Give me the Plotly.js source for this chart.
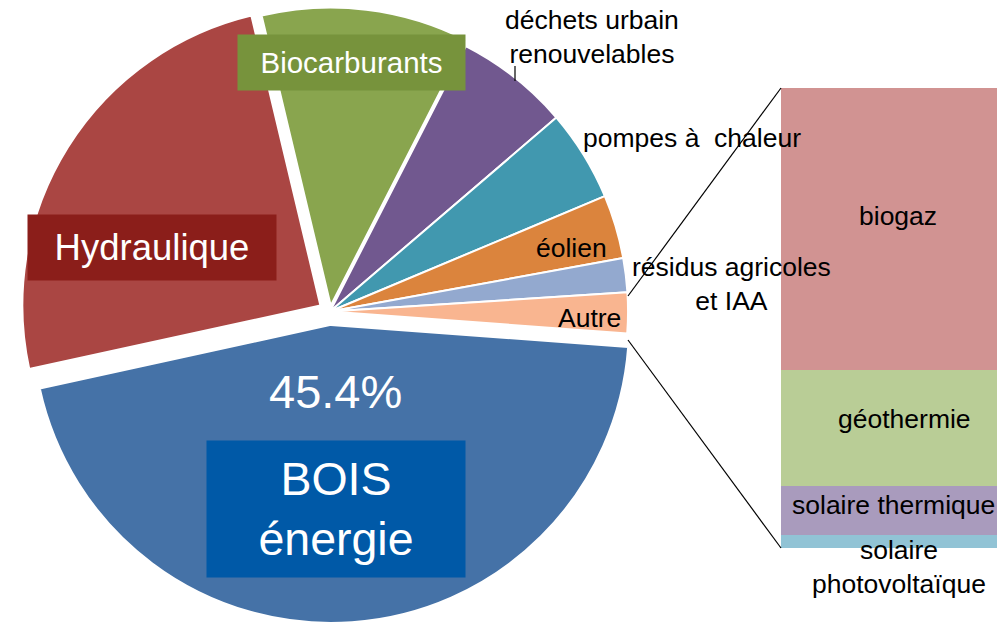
<!DOCTYPE html>
<html><head><meta charset="utf-8">
<script src="https://cdn.plot.ly/plotly-3.0.1.min.js"></script>
<style>html,body{margin:0;padding:0;background:#fff;overflow:hidden}#chart{width:997px;height:623px}</style>
</head><body><div id="chart"></div>
<script>
// ---- data ----
const pieLabels = ['Biocarburants', 'déchets urbain renouvelables', 'pompes à chaleur', 'éolien',
                   'résidus agricoles et IAA', 'Autre', 'BOIS énergie', 'Hydraulique'];
const pieValues = [11.25, 6.2, 4.95, 3.45, 1.85, 2.2, 45.4, 24.7];

const barLabels = ['solaire photovoltaïque', 'solaire thermique', 'géothermie', 'biogaz'];
const barValues = [0.06, 0.235, 0.555, 1.35];

// ---- styles ----
const pieColors = ['#89A54E', '#71588F', '#4198AF', '#DB843D', '#93A9CF', '#F9B590', '#4572A7', '#AA4643'];
const piePull   = [0.02, 0, 0, 0, 0, 0, 0.045, 0.038];
const barColors = ['#91C3D5', '#A99BBD', '#B9CD96', '#D19392'];

const W = 997, H = 623;
const px = x => x / W;
const py = y => 1 - y / H;
const FONT = '"Liberation Sans", Arial, sans-serif';

const traces = [{
  type: 'pie',
  labels: pieLabels,
  values: pieValues,
  sort: false,
  direction: 'clockwise',
  rotation: -13.4,
  pull: piePull,
  marker: {colors: pieColors, line: {color: '#ffffff', width: 2}},
  textinfo: 'none',
  hoverinfo: 'none',
  showlegend: false,
  domain: {x: [0.0186, 0.6434], y: [0, 1]}
}];

barLabels.forEach((lab, i) => {
  traces.push({
    type: 'bar',
    x: [0],
    y: [barValues[i]],
    name: lab,
    width: 1,
    marker: {color: barColors[i], line: {width: 0}},
    hoverinfo: 'none',
    showlegend: false,
    xaxis: 'x', yaxis: 'y'
  });
});

const total = pieValues.reduce((a, b) => a + b, 0);
const boisPct = (pieValues[6] / total * 100).toFixed(1) + '%';

function ann(text, x, y, size, color, extra) {
  return Object.assign({
    text: text, xref: 'paper', yref: 'paper', x: px(x), y: py(y),
    xanchor: 'center', yanchor: 'middle', showarrow: false,
    font: {family: FONT, size: size, color: color}
  }, extra || {});
}

const S = 26.5;
const annotations = [
  ann('Hydraulique', 152, 247.5, 36.5, '#ffffff', {bgcolor: '#8B1E1A', width: 248, height: 65, borderpad: 0}),
  ann('Biocarburants', 351.5, 62.5, 29.5, '#ffffff', {bgcolor: '#77933C', width: 227, height: 55, borderpad: 0}),
  ann('BOIS<br>énergie', 336, 509, 46.5, '#ffffff', {bgcolor: '#0059A7', width: 258, height: 136, borderpad: 0}),
  ann(boisPct, 335.5, 391, 47, '#ffffff'),
  ann('déchets urbain<br>renouvelables', 592, 37, S, '#000000'),
  ann('pompes à\u00a0 chaleur', 692, 138, S, '#000000'),
  ann('éolien', 571, 248, S, '#000000'),
  ann('résidus agricoles<br>et IAA', 731, 284, S, '#000000'),
  ann('Autre', 589, 318, S, '#000000'),
  ann('biogaz', 898, 216, S, '#000000'),
  ann('géothermie', 904, 419, S, '#000000'),
  ann('solaire thermique', 893, 505, S, '#000000'),
  ann('solaire<br>photovoltaïque', 899, 567, S, '#000000')
];

function line(x0, y0, x1, y1) {
  return {type: 'line', xref: 'paper', yref: 'paper', x0: px(x0), y0: py(y0), x1: px(x1), y1: py(y1),
          line: {color: '#000000', width: 1.2}};
}

const layout = {
  width: W, height: H,
  margin: {l: 0, r: 0, t: 0, b: 0, pad: 0},
  paper_bgcolor: '#ffffff', plot_bgcolor: 'rgba(0,0,0,0)',
  font: {family: FONT},
  barmode: 'stack',
  showlegend: false,
  hovermode: false,
  xaxis: {domain: [781 / W, 1], range: [-0.5, 0.42], visible: false, fixedrange: true},
  yaxis: {domain: [py(548), py(88)], range: [0, barValues.reduce((a, b) => a + b, 0)], visible: false, fixedrange: true},
  annotations: annotations,
  shapes: [
    line(628, 296, 781, 88),
    line(628, 340, 781, 548),
    line(515, 66, 515, 81)
  ]
};

Plotly.newPlot('chart', traces, layout, {staticPlot: true, displayModeBar: false});
</script>
</body></html>
